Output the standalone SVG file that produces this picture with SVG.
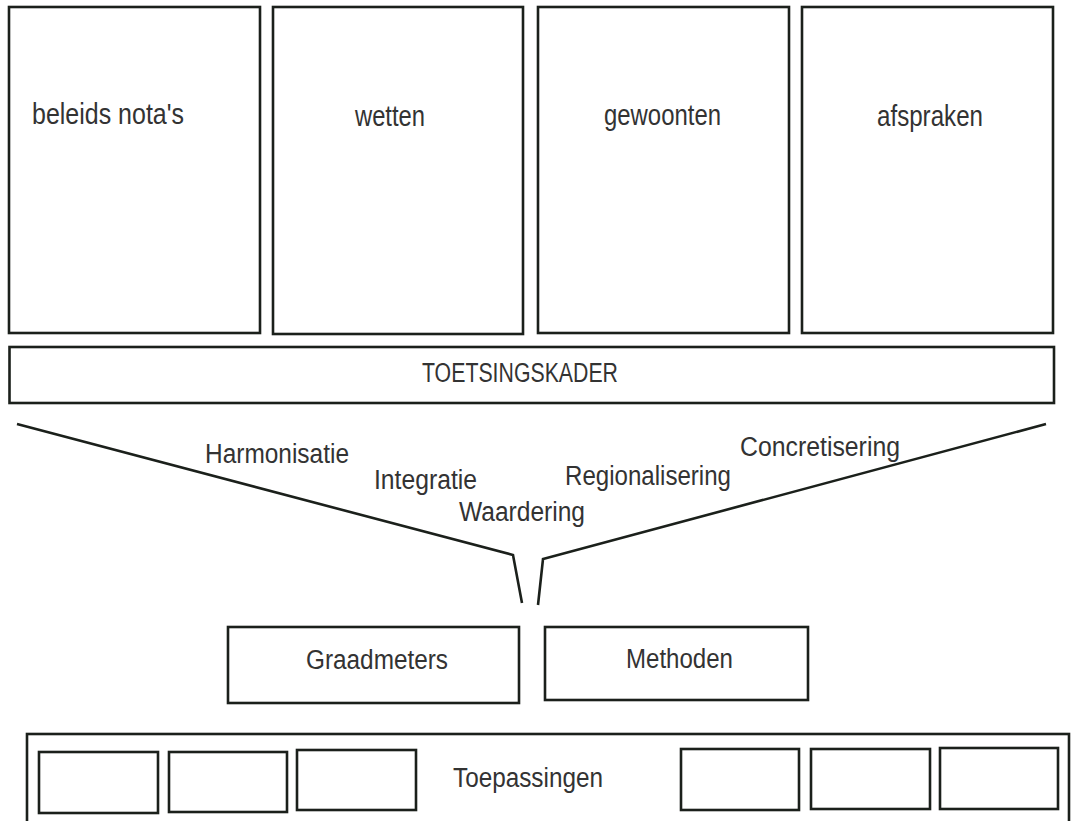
<svg xmlns="http://www.w3.org/2000/svg" width="1077" height="821" viewBox="0 0 1077 821">
<style>
.box{fill:#fff;stroke:#1b201b;stroke-width:2.6}
.ln{fill:none;stroke:#1b201b;stroke-width:2.6;stroke-linejoin:miter}
.t{font-family:"Liberation Sans",Arial,sans-serif;fill:#333;font-size:27px}
.tb{font-size:29px}
</style>
<rect width="1077" height="821" fill="#fff"/>
<g id="beleids">
<rect class="box" x="9" y="7" width="251" height="326"/>
<text class="t tb" x="32" y="124" textLength="152" lengthAdjust="spacingAndGlyphs">beleids nota's</text>
</g>
<g id="wetten">
<rect class="box" x="273" y="7" width="250" height="327"/>
<text class="t tb" x="355" y="126" textLength="70" lengthAdjust="spacingAndGlyphs">wetten</text>
</g>
<g id="gewoonten">
<rect class="box" x="538" y="7" width="251" height="326"/>
<text class="t tb" x="604" y="125" textLength="117" lengthAdjust="spacingAndGlyphs">gewoonten</text>
</g>
<g id="afspraken">
<rect class="box" x="802" y="7" width="251" height="326"/>
<text class="t tb" x="877" y="126" textLength="106" lengthAdjust="spacingAndGlyphs">afspraken</text>
</g>
<g id="toetsingskader">
<rect class="box" x="9.5" y="347" width="1044.5" height="56"/>
<text class="t" x="422" y="382" textLength="196" lengthAdjust="spacingAndGlyphs">TOETSINGSKADER</text>
</g>
<g id="connectors">
<polyline class="ln" points="17,424 513,555 522,603"/>
<polyline class="ln" points="1046,424 543,559 538,605"/>
</g>
<g id="labels">
<text class="t" x="205" y="463" textLength="144" lengthAdjust="spacingAndGlyphs">Harmonisatie</text>
<text class="t" x="374" y="489" textLength="103" lengthAdjust="spacingAndGlyphs">Integratie</text>
<text class="t" x="459" y="521" textLength="126" lengthAdjust="spacingAndGlyphs">Waardering</text>
<text class="t" x="565" y="485" textLength="166" lengthAdjust="spacingAndGlyphs">Regionalisering</text>
<text class="t" x="740" y="456" textLength="160" lengthAdjust="spacingAndGlyphs">Concretisering</text>
</g>
<g id="graadmeters">
<rect class="box" x="228" y="627" width="291" height="76"/>
<text class="t" x="306" y="669" textLength="142" lengthAdjust="spacingAndGlyphs">Graadmeters</text>
</g>
<g id="methoden">
<rect class="box" x="545" y="627" width="263" height="73"/>
<text class="t" x="626" y="668" textLength="107" lengthAdjust="spacingAndGlyphs">Methoden</text>
</g>
<g id="toepassingen">
<rect class="box" x="27" y="734" width="1042" height="100"/>
<text class="t" x="453" y="787" textLength="150" lengthAdjust="spacingAndGlyphs">Toepassingen</text>
<rect class="box" x="39" y="752" width="119" height="61"/>
<rect class="box" x="169" y="752" width="118" height="60"/>
<rect class="box" x="297" y="750" width="119" height="60"/>
<rect class="box" x="681" y="749" width="118" height="61"/>
<rect class="box" x="811" y="749" width="119" height="60"/>
<rect class="box" x="940" y="748" width="118" height="61"/>
</g>
</svg>
